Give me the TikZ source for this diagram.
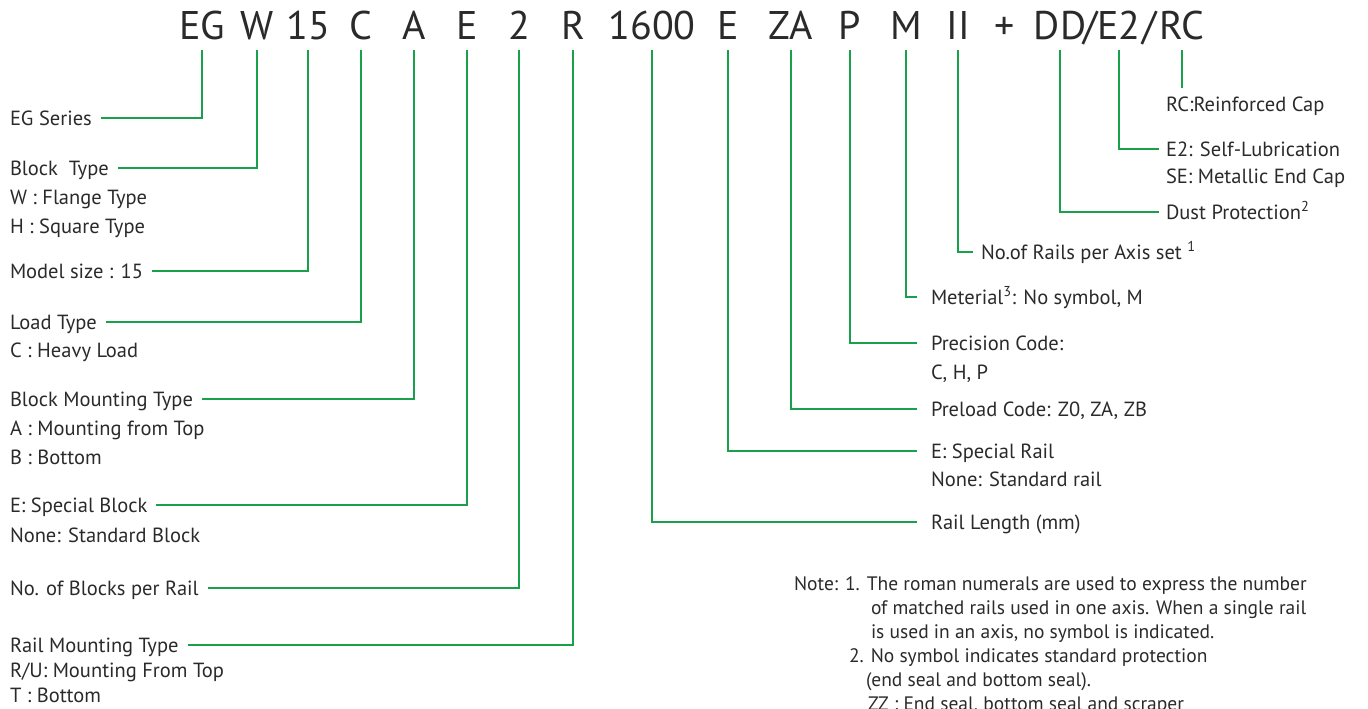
\documentclass[tikz,border=0pt]{standalone}
\usepackage{fontspec}
\setmainfont{PT Sans}
\definecolor{grn}{HTML}{19A04B}
\definecolor{txt}{HTML}{2A2A2A}
\newcommand\hdrfont{\fontsize{40}{44}\selectfont}
\newcommand\lblfont{\fontsize{20.5}{24}\selectfont}
\newcommand\notefont{\fontsize{19.5}{23}\selectfont}
\tikzset{
  hdr/.style={font=\hdrfont, text=txt, inner xsep=0pt, inner ysep=10pt, text height=28pt, text depth=0pt, anchor=base},
  lbl/.style={font=\lblfont, text=txt, inner sep=0pt, outer sep=0pt, text height=15pt, text depth=0pt, anchor=west},
  ltitle/.style={lbl, outer xsep=9pt},
  rtitle/.style={lbl, outer xsep=14pt},
  notes/.style={font=\notefont, text=txt, inner sep=0pt, outer sep=0pt, text height=14pt, text depth=0pt, anchor=west},
  conn/.style={draw=grn, line width=1.8pt}
}
\begin{document}
\begin{tikzpicture}[x=1pt,y=-1pt]
\useasboundingbox (0,0) rectangle (1368,709);
% header code
\node[hdr] (eg) at (202,40) {EG};
\node[hdr] (w) at (257,40) {W};
\node[hdr] (sz) at (308,40) {15};
\node[hdr] (c) at (361,40) {C};
\node[hdr] (a) at (414,40) {A};
\node[hdr] (e) at (467,40) {E};
\node[hdr] (two) at (519,40) {2};
\node[hdr] (r) at (573,40) {R};
\node[hdr] (len) at (652,40) {1600};
\node[hdr] (er) at (728,40) {E};
\node[hdr] (za) at (791,40) {ZA};
\node[hdr] (p) at (850,40) {P};
\node[hdr] (m) at (906,40) {M};
\node[hdr] (ii) at (958,40) {II};
\node[hdr] (plus) at (1005,40) {+};
\node[hdr] (dd) at (1060,40) {DD};
\node[hdr] (s1) at (1091,40) {/};
\node[hdr] (e2) at (1119,40) {E2};
\node[hdr] (s2) at (1150,40) {/};
\node[hdr] (rc) at (1182,40) {RC};
% left labels
\node[ltitle] (egs) at (1,118) {EG Series};
\node[ltitle] (bt) at (1,168) {Block\ \ Type};
\node[lbl] (bt1) at (10,197) {W : Flange Type};
\node[lbl] (bt2) at (10,226) {H : Square Type};
\node[ltitle] (ms) at (1,271) {Model size : 15};
\node[ltitle] (lt) at (1,322) {Load Type};
\node[lbl] (lt1) at (10,350) {C : Heavy Load};
\node[ltitle] (bm) at (1,399) {Block Mounting Type};
\node[lbl] (bm1) at (10,428) {A : Mounting from Top};
\node[lbl] (bm2) at (10,457) {B : Bottom};
\node[ltitle] (sb) at (1,505) {E: Special Block};
\node[lbl] (sb1) at (10,535) {None: Standard Block};
\node[ltitle] (nb) at (1,588) {No. of Blocks per Rail};
\node[ltitle] (rm) at (1,645) {Rail Mounting Type};
\node[lbl] (rm1) at (10,670) {R/U: Mounting From Top};
\node[lbl] (rm2) at (10,695) {T : Bottom};
% right labels
\node[lbl, outer ysep=9pt] (rcl) at (1166,104) {RC:Reinforced Cap};
\node[lbl, outer xsep=7pt] (e2l) at (1159,149) {E2: Self-Lubrication};
\node[lbl] (e2l1) at (1166,176) {SE: Metallic End Cap};
\node[lbl, outer xsep=7pt] (dpl) at (1159,212) {Dust Protection\textsuperscript{2}};
\node[lbl, outer xsep=8pt] (nrl) at (973,252) {No.of Rails per Axis set \textsuperscript{1}};
\node[rtitle] (mtl) at (917,297) {Meterial\textsuperscript{3}: No symbol, M};
\node[rtitle] (pcl) at (917,343) {Precision Code:};
\node[lbl] (pcl1) at (931,372) {C, H, P};
\node[rtitle] (plc) at (917,409) {Preload Code: Z0, ZA, ZB};
\node[rtitle] (srl) at (917,451) {E: Special Rail};
\node[lbl] (srl1) at (931,479) {None: Standard rail};
\node[rtitle] (rll) at (917,522) {Rail Length (mm)};
% notes
\node[notes] (n1) at (794,583) {Note: 1. The roman numerals are used to express the number};
\node[notes] (n2) at (871,607) {of matched rails used in one axis. When a single rail};
\node[notes] (n3) at (871,631) {is used in an axis, no symbol is indicated.};
\node[notes] (n4) at (849,655) {2. No symbol indicates standard protection};
\node[notes] (n5) at (866,679) {(end seal and bottom seal).};
\node[notes] (n6) at (868,703) {ZZ : End seal, bottom seal and scraper};
% connectors
\draw[conn] (eg.south) |- (egs.east);
\draw[conn] (w.south) |- (bt.east);
\draw[conn] (sz.south) |- (ms.east);
\draw[conn] (c.south) |- (lt.east);
\draw[conn] (a.south) |- (bm.east);
\draw[conn] (e.south) |- (sb.east);
\draw[conn] (two.south) |- (nb.east);
\draw[conn] (r.south) |- (rm.east);
\draw[conn] (len.south) |- (rll.west);
\draw[conn] (er.south) |- (srl.west);
\draw[conn] (za.south) |- (plc.west);
\draw[conn] (p.south) |- (pcl.west);
\draw[conn] (m.south) |- (mtl.west);
\draw[conn] (ii.south) |- (nrl.west);
\draw[conn] (dd.south) |- (dpl.west);
\draw[conn] (e2.south) |- (e2l.west);
\draw[conn] (rc.south) -- (rc.south |- rcl.north);
\end{tikzpicture}
\end{document}
